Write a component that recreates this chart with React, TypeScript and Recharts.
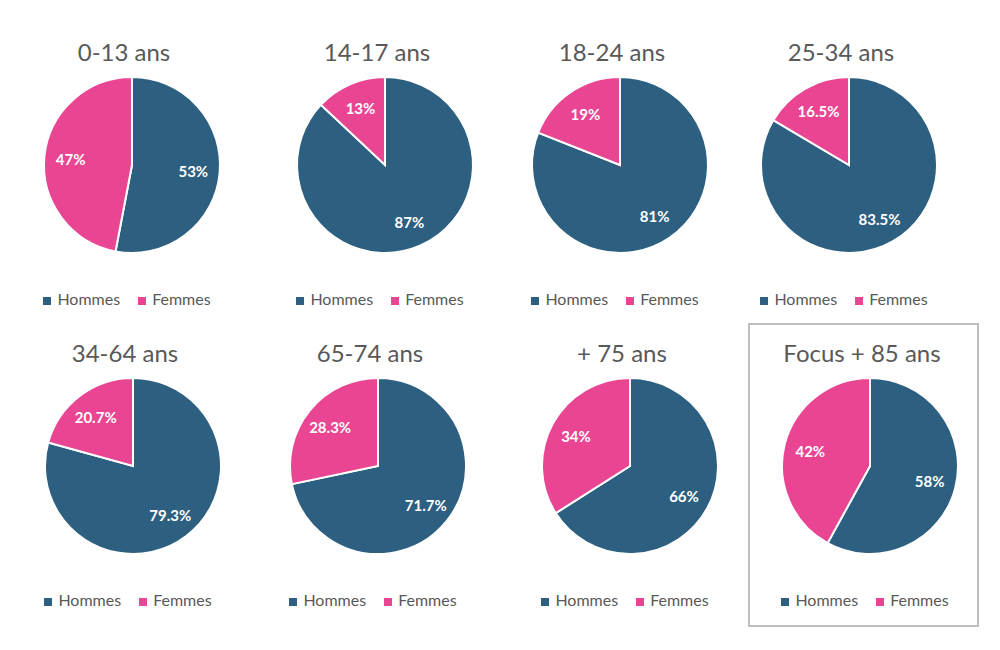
import React from "react";
import { PieChart, Pie, Cell, Legend } from "recharts";

const groups = ["0-13 ans", "14-17 ans", "18-24 ans", "25-34 ans", "34-64 ans", "65-74 ans", "+ 75 ans", "Focus + 85 ans"];
const hommes = [53, 87, 81, 83.5, 79.3, 71.7, 66, 58];
const femmes = [47, 13, 19, 16.5, 20.7, 28.3, 34, 42];
const seriesNames = ["Hommes", "Femmes"];
const colors = ["#2D5F80", "#EA4592"];

// pie centres in the page (layout only)
const centers = [
  [132, 20], [385, 20], [620, 20], [849, 20],
  [133, 321], [378, 321], [630, 321], [870, 321],
];

const FONT = "Lato, 'Open Sans', sans-serif";
const RAD = Math.PI / 180;
const CELL_W = 240;
const CELL_H = 300;

const renderLabel = (props: any) => {
  const { cx, cy, midAngle, outerRadius, payload } = props;
  const r = outerRadius * 0.7;
  const x = cx + r * Math.cos(-midAngle * RAD);
  const y = cy + r * Math.sin(-midAngle * RAD);
  return (
    <text x={x} y={y} fill="#fff" fontSize={15} fontWeight={700} fontFamily={FONT}
      textAnchor="middle" dominantBaseline="central">
      {payload.label}
    </text>
  );
};

function AgePie({ index }: { index: number }) {
  const data = [
    { name: seriesNames[0], value: hommes[index], label: hommes[index] + "%" },
    { name: seriesNames[1], value: femmes[index], label: femmes[index] + "%" },
  ];
  const [cx, top] = centers[index];
  return (
    <div style={{ position: "absolute", left: cx - CELL_W / 2, top, width: CELL_W, height: CELL_H }}>
      <div style={{ position: "absolute", left: -8, top: 16, width: CELL_W, textAlign: "center",
        fontFamily: FONT, fontSize: 24, color: "#595959", lineHeight: "32px" }}>
        {groups[index]}
      </div>
      <PieChart width={CELL_W} height={CELL_H} margin={{ top: 0, right: 0, bottom: 0, left: 0 }}>
        <Pie data={data} dataKey="value" nameKey="name" cx={CELL_W / 2} cy={145}
          outerRadius={88} startAngle={90} endAngle={-270} stroke="#fff" strokeWidth={2}
          label={renderLabel} labelLine={false} isAnimationActive={false}>
          {data.map((d, i) => <Cell key={d.name} fill={colors[i]} />)}
        </Pie>
        <Legend iconType="square" iconSize={8}
          itemSorter={(item: any) => seriesNames.indexOf(item.value)}
          wrapperStyle={{ top: 269, left: 0, width: CELL_W, fontFamily: FONT }}
          formatter={(v: string) => (
            <span style={{ color: "#595959", fontSize: 16, marginLeft: 2, marginRight: v === seriesNames[0] ? 8 : 0 }}>{v}</span>
          )} />
      </PieChart>
    </div>
  );
}

export default function App() {
  return (
    <div style={{ position: "absolute", left: 0, top: 0, width: 1000, height: 650, background: "#fff" }}>
      <div style={{ position: "absolute", left: 748, top: 323, width: 227, height: 300, border: "2px solid #BFBFBF" }} />
      {groups.map((g, i) => <AgePie key={g} index={i} />)}
    </div>
  );
}
